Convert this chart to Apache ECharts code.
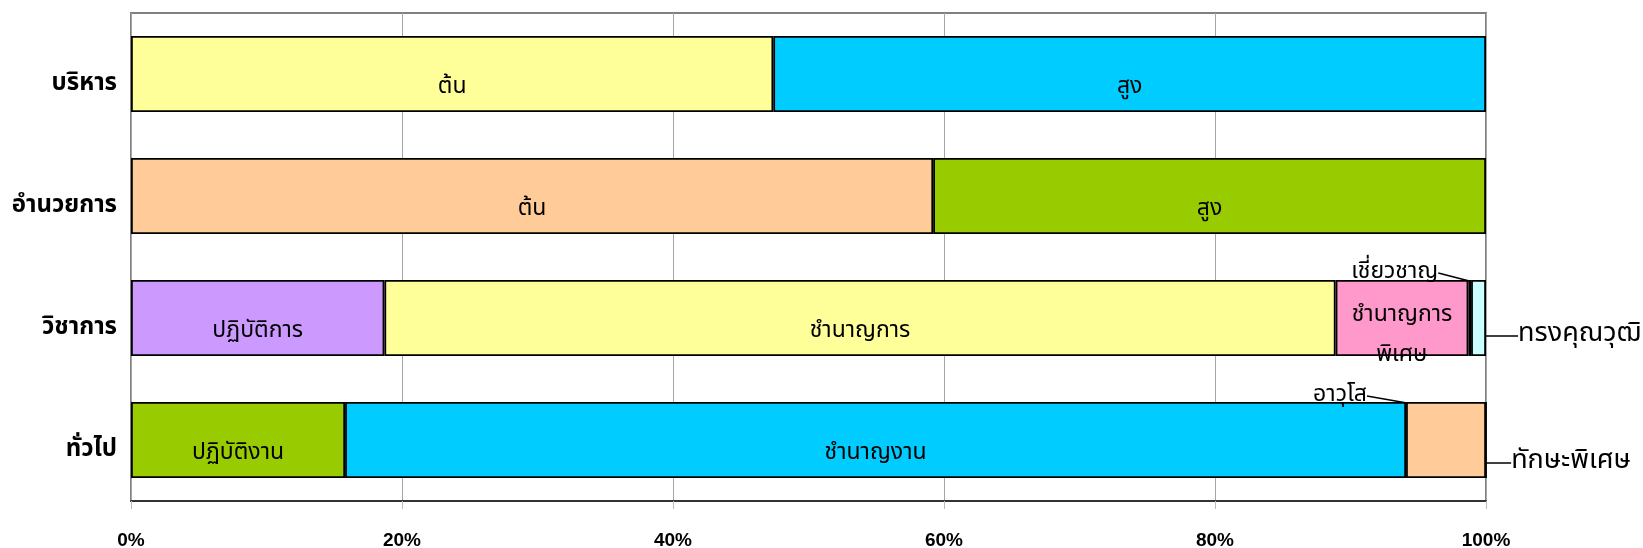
<!DOCTYPE html>
<html>
<head>
<meta charset="utf-8">
<script src="https://cdn.jsdelivr.net/npm/echarts@6/dist/echarts.min.js"></script>
<style>
  html, body { margin: 0; padding: 0; background: #fff; }
  #chart { width: 1643px; height: 548px; }
</style>
</head>
<body>
<div id="chart"></div>
<script>
// categories, top to bottom
const categories = ["บริหาร", "อำนวยการ", "วิชาการ", "ทั่วไป"];
const xTicks = [0, 20, 40, 60, 80, 100];

// stacked segments, left to right (percent of each row)
const seg1Names = ["ต้น", "ต้น", "ปฏิบัติการ", "ปฏิบัติงาน"];
const seg1Values = [47.4, 59.2, 18.7, 15.8];
const seg2Names = ["สูง", "สูง", "ชำนาญการ", "ชำนาญงาน"];
const seg2Values = [52.6, 40.8, 70.2, 78.3];
const seg3Names = ["", "", "ชำนาญการ\nพิเศษ", "อาวุโส"];
const seg3Values = [null, null, 9.8, 5.9];
const seg4Names = ["", "", "เชี่ยวชาญ", "ทักษะพิเศษ"];
const seg4Values = [null, null, 0.2, 0];
const seg5Names = ["", "", "ทรงคุณวุฒิ", ""];
const seg5Values = [null, null, 1.1, null];

// fill colours per segment/row
const seg1Colors = ["#FFFF99", "#FFCC99", "#CC99FF", "#99CC00"];
const seg2Colors = ["#00CCFF", "#99CC00", "#FFFF99", "#00CCFF"];
const seg3Colors = ["#fff", "#fff", "#FF99CC", "#FFCC99"];
const seg4Colors = ["#fff", "#fff", "#FF99CC", "#FFCC99"];
const seg5Colors = ["#fff", "#fff", "#CCFFFF", "#fff"];

// labels that sit outside the bar with a leader line: [dx, dy, fontSize]
const outsideLabels = {
  "เชี่ยวชาญ": [-75, -45, 23],
  "ทรงคุณวุฒิ": [101, 18, 27],
  "อาวุโส": [-106, -44, 23],
  "ทักษะพิเศษ": [85, 23, 27],
};

const thaiFont = '"Noto Sans Thai", Tahoma, "DejaVu Sans", sans-serif';

function makeSeries(names, values, colors) {
  return {
    type: "bar",
    stack: "total",
    barWidth: 76,
    data: values.map((v, i) => {
      const item = {
        value: v,
        name: names[i],
        itemStyle: { color: colors[i] },
      };
      const o = outsideLabels[names[i]];
      if (o) {
        item.label = { fontSize: o[2] };
        item.labelLine = { show: true, lineStyle: { color: "#000", width: 1.5 } };
      }
      return item;
    }),
    itemStyle: { borderColor: "#000", borderWidth: 1.8 },
    label: {
      show: true,
      position: "inside",
      color: "#000",
      fontSize: 23,
      fontFamily: thaiFont,
      lineHeight: 40,
      formatter: (p) => p.name,
    },
    labelLayout: (p) => {
      const o = outsideLabels[names[p.dataIndex]];
      if (o) return { dx: o[0], dy: o[1] };
      return { dy: names[p.dataIndex].indexOf("\n") >= 0 ? 18 : 14 };
    },
    emphasis: { disabled: true },
  };
}

const chart = echarts.init(document.getElementById("chart"));
chart.setOption({
  animation: false,
  grid: {
    left: 131,
    right: 157,
    top: 13,
    bottom: 47,
    outerBoundsMode: "none",
    containLabel: false,
    show: true,
    borderColor: "#808080",
    borderWidth: 2,
  },
  xAxis: {
    type: "value",
    min: xTicks[0],
    max: xTicks[xTicks.length - 1],
    interval: 20,
    axisLine: { show: true, lineStyle: { color: "#333", width: 2 } },
    axisTick: { show: true, length: 8, lineStyle: { color: "#bbb" } },
    splitLine: { show: true, lineStyle: { color: "#a6a6a6", width: 1 } },
    axisLabel: {
      margin: 30,
      color: "#000",
      fontWeight: "bold",
      fontSize: 19,
      fontFamily: '"Liberation Sans", Arial, sans-serif',
      formatter: "{value}%",
    },
  },
  yAxis: {
    type: "category",
    inverse: true,
    data: categories,
    axisLine: { show: false },
    axisTick: { show: false },
    axisLabel: {
      margin: 14,
      formatter: "{a|{value}}",
      rich: {
        a: {
          color: "#000",
          fontWeight: "bold",
          fontSize: 24,
          fontFamily: thaiFont,
          padding: [23, 0, 0, 0],
        },
      },
    },
  },
  series: [
    makeSeries(seg1Names, seg1Values, seg1Colors),
    makeSeries(seg2Names, seg2Values, seg2Colors),
    makeSeries(seg3Names, seg3Values, seg3Colors),
    makeSeries(seg4Names, seg4Values, seg4Colors),
    makeSeries(seg5Names, seg5Values, seg5Colors),
  ],
});
</script>
</body>
</html>
